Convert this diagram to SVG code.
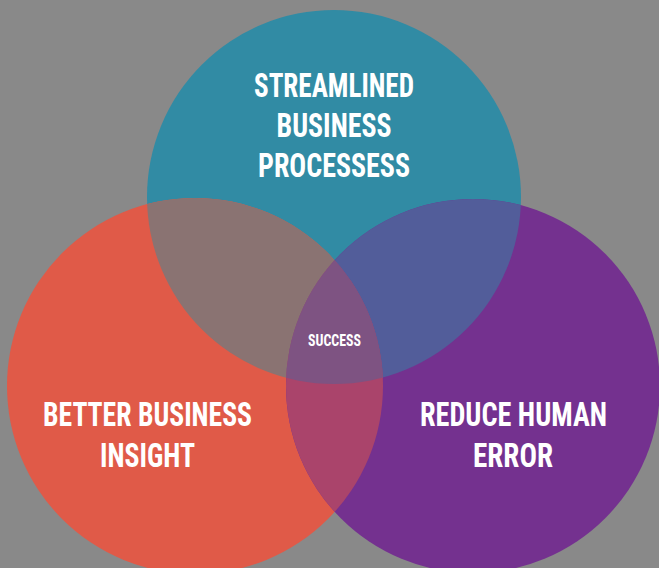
<svg xmlns="http://www.w3.org/2000/svg" width="659" height="568" viewBox="0 0 659 568">
  <style>
    .lbl { font-family: "Liberation Sans Narrow", "Roboto Condensed", "DejaVu Sans Condensed", "Liberation Sans", sans-serif; font-weight: bold; fill: #ffffff; text-anchor: middle; }
    .big { font-size: 33px; }
    .small { font-size: 16.5px; }
  </style>
  <defs>
    <clipPath id="clipTeal"><circle cx="334" cy="197" r="187"/></clipPath>
    <clipPath id="clipRed"><circle cx="195" cy="386" r="188"/></clipPath>
  </defs>
  <rect x="0" y="0" width="659" height="568" fill="#898989"/>
  <g id="circles">
    <g id="node-streamlined">
      <circle cx="334" cy="197" r="187" fill="#318ba4"/>
    </g>
    <g id="node-insight">
      <circle cx="195" cy="386" r="188" fill="#e05a48"/>
    </g>
    <g id="node-error">
      <circle cx="473" cy="386" r="187" fill="#74318f"/>
    </g>
    <g id="overlaps">
      <circle cx="195" cy="386" r="188" fill="#8a7372" clip-path="url(#clipTeal)"/>
      <circle cx="473" cy="386" r="187" fill="#525d9a" clip-path="url(#clipTeal)"/>
      <circle cx="473" cy="386" r="187" fill="#aa446b" clip-path="url(#clipRed)"/>
      <g clip-path="url(#clipRed)">
        <circle cx="473" cy="386" r="187" fill="#7e5382" clip-path="url(#clipTeal)"/>
      </g>
    </g>
  </g>
  <g id="labels">
    <g id="label-streamlined">
      <text class="lbl big" x="334" y="97" textLength="160" lengthAdjust="spacingAndGlyphs">STREAMLINED</text>
      <text class="lbl big" x="334" y="137" textLength="115" lengthAdjust="spacingAndGlyphs">BUSINESS</text>
      <text class="lbl big" x="334" y="177" textLength="152" lengthAdjust="spacingAndGlyphs">PROCESSESS</text>
    </g>
    <g id="label-insight">
      <text class="lbl big" x="147.5" y="426" textLength="209" lengthAdjust="spacingAndGlyphs">BETTER BUSINESS</text>
      <text class="lbl big" x="147.5" y="467" textLength="95" lengthAdjust="spacingAndGlyphs">INSIGHT</text>
    </g>
    <g id="label-error">
      <text class="lbl big" x="513.5" y="426" textLength="187" lengthAdjust="spacingAndGlyphs">REDUCE HUMAN</text>
      <text class="lbl big" x="513" y="467" textLength="80" lengthAdjust="spacingAndGlyphs">ERROR</text>
    </g>
    <g id="label-success">
      <text class="lbl small" x="334.5" y="346" textLength="53" lengthAdjust="spacingAndGlyphs">SUCCESS</text>
    </g>
  </g>
</svg>
